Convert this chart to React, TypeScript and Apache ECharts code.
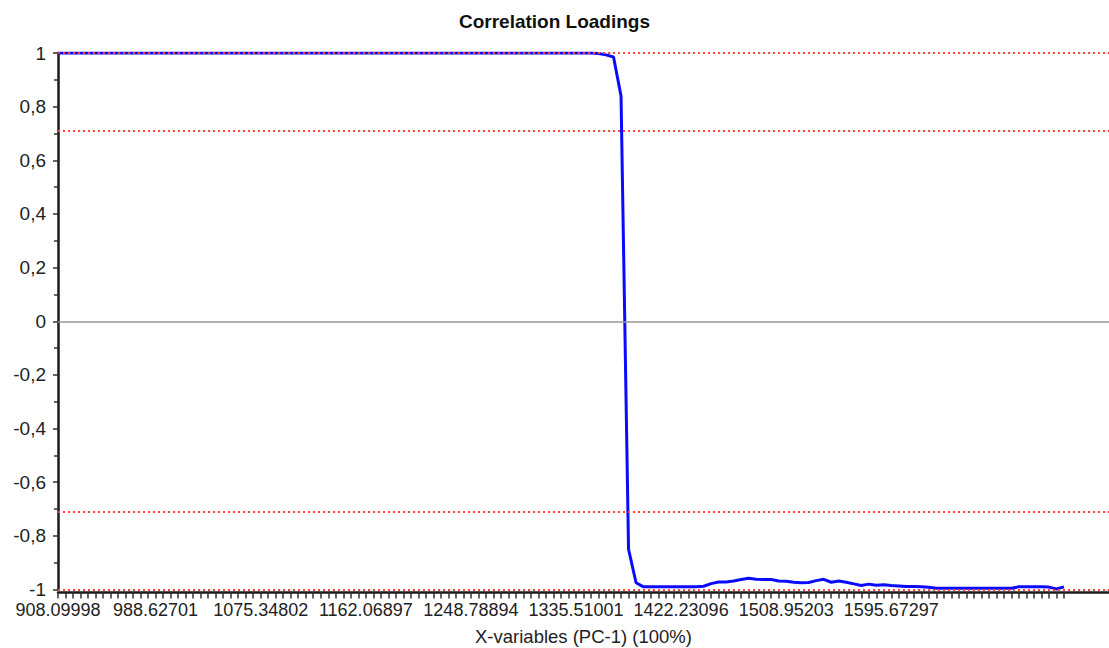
import React, { useEffect, useRef } from "react";
import * as echarts from "echarts";

// PC-1 correlation loading for each X-variable (in variable order)
const loadings: number[] = [
  // 0 - 35
  1, 1, 1, 1, 1, 1, 1, 1, 1, 1, 1, 1, 1, 1, 1, 1, 1, 1,
  1, 1, 1, 1, 1, 1, 1, 1, 1, 1, 1, 1, 1, 1, 1, 1, 1, 1,
  // 36 - 71
  1, 1, 1, 1, 1, 1, 1, 1, 1, 1, 1, 1, 1, 1, 1, 1, 1, 1,
  1, 1, 1, 1, 1, 1, 1, 1, 1, 1, 1, 1, 1, 1, 1, 1, 1, 1,
  // 72 - 85
  0.998, 0.993, 0.985, 0.84, -0.85, -0.975, -0.99, -0.99, -0.99, -0.99,
  -0.99, -0.99, -0.99, -0.99,
  // 86 - 109
  -0.988, -0.978, -0.972, -0.972, -0.968, -0.963, -0.958, -0.962, -0.963, -0.963,
  -0.968, -0.969, -0.973, -0.975, -0.974, -0.967, -0.962, -0.973, -0.968, -0.973,
  -0.979, -0.985, -0.98, -0.984,
  // 110 - 134
  -0.982, -0.985, -0.987, -0.989, -0.989, -0.99, -0.992, -0.995, -0.995, -0.995,
  -0.995, -0.995, -0.995, -0.995, -0.995, -0.995, -0.995, -0.995, -0.99, -0.99,
  -0.99, -0.99, -0.991, -0.998, -0.99,
];

// Labelled X-variables: position in the variable list and their names
const xLabelIndex: number[] = [0, 13, 27, 41, 55, 69, 83, 97, 111];
const xLabelText: string[] = [
  "908.09998",
  "988.62701",
  "1075.34802",
  "1162.06897",
  "1248.78894",
  "1335.51001",
  "1422.23096",
  "1508.95203",
  "1595.67297",
];

// Explained-variance guide levels (100% and 50%)
const guideLevels: number[] = [1, 0.7071, -0.7071, -1];

const X_AXIS_MAX = 140;
const FONT = "'Liberation Sans', Arial, Helvetica, sans-serif";

export default function App() {
  const ref = useRef<HTMLDivElement>(null);

  useEffect(() => {
    if (!ref.current) return;
    const chart = echarts.init(ref.current, undefined, { renderer: "svg" });

    const labelMap: Record<number, string> = {};
    xLabelIndex.forEach((idx, k) => {
      labelMap[idx] = xLabelText[k];
    });
    const tickValues = loadings.map((_, i) => i);
    const seriesData = loadings.map((v, i) => [i, v]);

    chart.setOption({
      animation: false,
      backgroundColor: "#ffffff",
      title: {
        text: "Correlation Loadings",
        left: "center",
        top: 12,
        padding: 0,
        textStyle: {
          fontFamily: FONT,
          fontSize: 19,
          fontWeight: "bold",
          color: "#111111",
        },
      },
      grid: {
        left: 58,
        right: 0,
        top: 53,
        bottom: 58.5,
        containLabel: false,
        outerBoundsMode: "none",
      },
      xAxis: {
        type: "value",
        min: 0,
        max: X_AXIS_MAX,
        offset: 3,
        name: "X-variables (PC-1) (100%)",
        nameLocation: "middle",
        nameGap: 34,
        nameTextStyle: { fontFamily: FONT, fontSize: 18.5, color: "#222222" },
        axisLine: { show: true, onZero: false, lineStyle: { color: "#1a1a1a", width: 2.5 } },
        axisTick: {
          show: true,
          length: 6,
          customValues: tickValues,
          lineStyle: { color: "#333333", width: 1.5 },
        },
        axisLabel: {
          show: true,
          customValues: xLabelIndex,
          margin: 8,
          fontFamily: FONT,
          fontSize: 18,
          color: "#222222",
          formatter: (v: number) => labelMap[Math.round(v)] ?? "",
        },
        splitLine: { show: false },
      },
      yAxis: {
        type: "value",
        min: -1,
        max: 1,
        interval: 0.2,
        axisLine: { show: true, onZero: false, lineStyle: { color: "#1a1a1a", width: 2.5 } },
        axisTick: { show: true, length: 5, lineStyle: { color: "#333333", width: 1.5 } },
        minorTick: { show: true, splitNumber: 2, length: 4, lineStyle: { color: "#333333", width: 1.5 } },
        axisLabel: {
          margin: 12,
          fontFamily: FONT,
          fontSize: 19,
          color: "#222222",
          formatter: (v: number) => String(Number(v.toFixed(1))).replace(".", ","),
        },
        splitLine: { show: false },
      },
      series: [
        {
          name: "zero",
          type: "line",
          data: [],
          z: 1,
          silent: true,
          markLine: {
            silent: true,
            symbol: "none",
            label: { show: false },
            lineStyle: { color: "#999999", width: 1.5, type: "solid" },
            data: [{ yAxis: 0 }],
          },
        },
        {
          name: "PC-1",
          type: "line",
          data: seriesData,
          z: 2,
          showSymbol: false,
          symbol: "none",
          lineStyle: { color: "#0a0aff", width: 3 },
        },
        {
          name: "guides",
          type: "line",
          data: [],
          z: 3,
          silent: true,
          markLine: {
            silent: true,
            symbol: "none",
            label: { show: false },
            lineStyle: { color: "#ff4040", width: 2, type: [2, 3] },
            data: guideLevels.map((v) => ({ yAxis: v })),
          },
        },
      ],
    });

    return () => {
      chart.dispose();
    };
  }, []);

  return (
    <div
      ref={ref}
      style={{
        position: "absolute",
        left: 0,
        top: 0,
        width: 1109,
        height: 648,
        background: "#ffffff",
      }}
    />
  );
}
